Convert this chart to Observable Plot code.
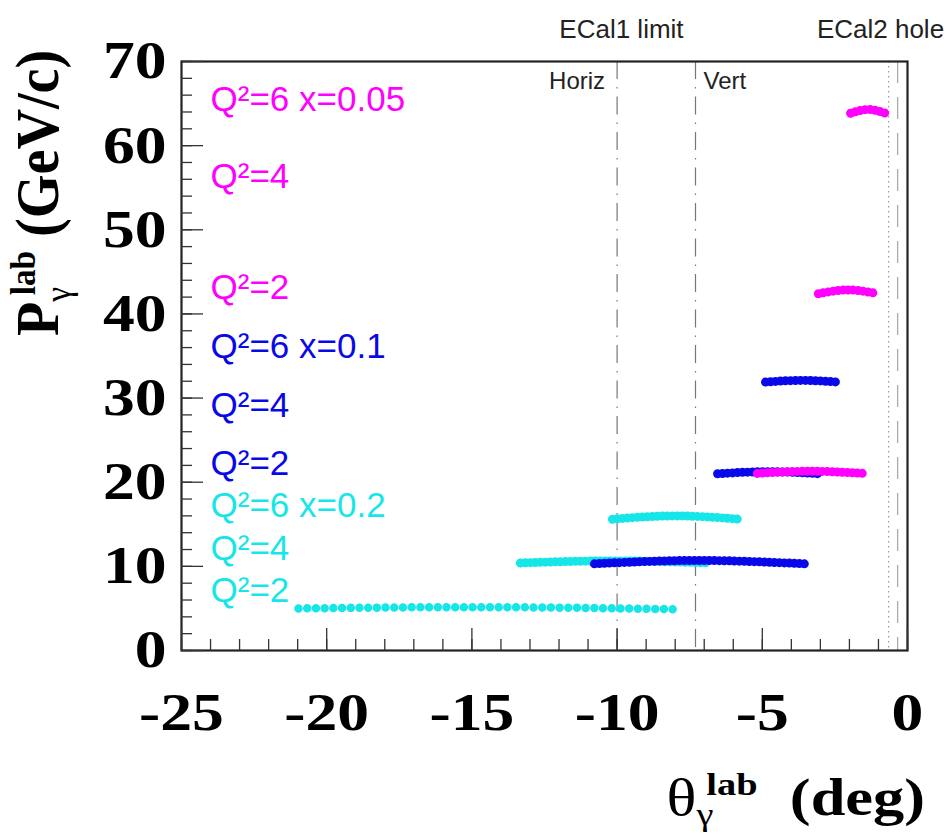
<!DOCTYPE html>
<html>
<head>
<meta charset="utf-8">
<script src="https://cdn.jsdelivr.net/npm/d3@7"></script>
<script src="https://cdn.jsdelivr.net/npm/@observablehq/plot@0.6"></script>
<style>
  html, body { margin: 0; padding: 0; background: #fff; }
  #chart svg { display: block; }
</style>
</head>
<body>
<div id="chart"></div>
<script>
// ---- Data ----
const q2Values   = [6, 4, 2, 6, 4, 2, 6, 4, 2];
const xBjorken   = [0.05, 0.05, 0.05, 0.1, 0.1, 0.1, 0.2, 0.2, 0.2];
const thetaStart = [-1.96, -3.07, -5.17, -4.89, -6.54, -10.78, -10.16, -13.33, -20.97];
const thetaMid   = [-1.35, -2.05, -3.36, -3.63, -4.80, -7.20, -8.00, -10.10, -14.40];
const thetaEnd   = [-0.76, -1.03, -1.55, -2.38, -3.00, -3.55, -5.79, -6.80, -7.92];
const pStart     = [63.85, 42.40, 21.05, 31.90, 21.00, 10.30, 15.60, 10.40, 5.00];
const pMid       = [64.30, 42.85, 21.30, 32.10, 21.25, 10.70, 16.00, 10.65, 5.15];
const pEnd       = [63.85, 42.40, 21.05, 31.90, 21.00, 10.30, 15.60, 10.40, 4.90];

// label positions (data units)
const labelTheta = -24.0;
const labelP     = [65.4, 56.3, 43.1, 36.1, 29.1, 22.2, 17.2, 12.1, 7.1];

// detector limits
const ecal1Theta  = [-10.0, -7.3];
const ecal1Names  = ["Horiz", "Vert"];
const ecal2Dotted = [-0.65];
const ecal2Dashed = [-0.34];
const topLabels   = ["ECal1 limit", "ECal2 hole"];
const topLabelX   = [-9.85, -0.93];

// ticks
const xMajor = [-25, -20, -15, -10, -5, 0];
const yMajor = [0, 10, 20, 30, 40, 50, 60, 70];
const xMinor = d3.range(-25, 0.01, 1);
const yMinor = d3.range(0, 70.01, 2);

const colorDomain = [0.05, 0.1, 0.2];
const colorRange  = ["#ff00ff", "#0808e8", "#17e6e8"];

// ---- Build rows ----
const drawOrder = [6, 7, 8, 3, 4, 5, 0, 1, 2];
const rows = [];
for (const i of drawOrder) {
  rows.push({id: i, xb: xBjorken[i], theta: thetaStart[i], p: pStart[i]});
  rows.push({id: i, xb: xBjorken[i], theta: thetaMid[i],   p: pMid[i]});
  rows.push({id: i, xb: xBjorken[i], theta: thetaEnd[i],   p: pEnd[i]});
}
const sparse = rows.filter(d => d.id === 8);
const dense  = rows.filter(d => d.id !== 8);
const labels = q2Values.map((q, i) => ({
  xb: xBjorken[i],
  p: labelP[i],
  text: `Q²=${q}` + (q === 6 ? ` x=${xBjorken[i]}` : "")
}));
const tops = topLabels.map((t, i) => ({t, x: topLabelX[i]}));

const serif = "'Liberation Serif', 'Times New Roman', serif";
const sans = "'Liberation Sans', Arial, sans-serif";

const lineOpts = {
  x: "theta", y: "p", z: "id", stroke: "xb",
  strokeWidth: 9, strokeLinecap: "round", curve: "natural"
};

const chart = Plot.plot({
  width: 945,
  height: 834,
  marginLeft: 181,
  marginRight: 38,
  marginTop: 61,
  marginBottom: 184,
  style: {background: "#fff", overflow: "visible"},
  x: {domain: [-25, 0], label: null},
  y: {domain: [0, 70], label: null},
  color: {type: "ordinal", domain: colorDomain, range: colorRange},
  marks: [
    Plot.ruleX(ecal1Theta, {stroke: "#777", strokeWidth: 1.2, strokeDasharray: "18,8,1.5,8"}),
    Plot.ruleX(ecal2Dotted, {stroke: "#999", strokeWidth: 1.2, strokeDasharray: "1.5,3.5"}),
    Plot.ruleX(ecal2Dashed, {stroke: "#aaa", strokeWidth: 1.3, strokeDasharray: "22,14"}),
    Plot.line(dense, {...lineOpts, strokeDasharray: "0,5"}),
    Plot.line(sparse, {...lineOpts, strokeWidth: 8.5, strokeDasharray: "0,8.7"}),
    Plot.frame({stroke: "#222", strokeWidth: 2.2}),
    Plot.axisX(xMinor, {tickSize: -11, stroke: "#333", strokeWidth: 1.3, tickFormat: () => "", label: null}),
    Plot.axisX(xMajor, {tickSize: -22, stroke: "#333", strokeWidth: 1.3, tickFormat: () => "", label: null}),
    Plot.axisY(yMinor, {tickSize: -11, stroke: "#333", strokeWidth: 1.3, tickFormat: () => "", label: null}),
    Plot.axisY(yMajor, {tickSize: -22, stroke: "#333", strokeWidth: 1.3, tickFormat: () => "", label: null}),
    Plot.axisX(xMajor, {tickSize: 0, tickPadding: 42, tickFormat: d => String(d), label: null,
      fontSize: 53, fontWeight: "bold", fontFamily: serif, fill: "#000"}),
    Plot.axisY(yMajor, {tickSize: 0, tickPadding: 15, tickFormat: d => String(d), label: null,
      fontSize: 53, fontWeight: "bold", fontFamily: serif, fill: "#000"}),
    Plot.text(labels, {x: () => labelTheta, y: "p", text: "text", fill: "xb",
      textAnchor: "start", fontSize: 35, fontFamily: sans}),
    Plot.text([ecal1Names[0]], {x: () => ecal1Theta[0], text: d => d, frameAnchor: "top",
      dy: 10, dx: -12, textAnchor: "end", fontSize: 24, fontFamily: sans, fill: "#222"}),
    Plot.text([ecal1Names[1]], {x: () => ecal1Theta[1], text: d => d, frameAnchor: "top",
      dy: 10, dx: 8, textAnchor: "start", fontSize: 24, fontFamily: sans, fill: "#222"}),
    Plot.text(tops, {x: "x", text: "t", frameAnchor: "top", dy: -42,
      fontSize: 26, fontFamily: sans, fill: "#222"})
  ]
});

document.getElementById("chart").appendChild(chart);

const svg = d3.select(chart);

// Horizontal stretch of the bold tick labels (as in the reference)
svg.selectAll('g[aria-label="x-axis tick label"] text, g[aria-label="y-axis tick label"] text')
  .each(function () {
    const t = this.getAttribute("transform");
    if (t) {
      this.setAttribute("transform", t + " scale(1.2,1)");
    } else {
      const x = +(this.getAttribute("x") || 0), y = +(this.getAttribute("y") || 0);
      this.removeAttribute("x"); this.removeAttribute("y");
      this.setAttribute("transform", `translate(${x},${y}) scale(1.2,1)`);
    }
  });

// Axis titles with sub/superscripts
const yt = svg.append("text")
  .attr("transform", "translate(58,336) rotate(-90) scale(1.04,1.15)")
  .attr("text-anchor", "start")
  .attr("font-family", serif).attr("font-weight", "bold").attr("font-size", 54).attr("fill", "#000");
yt.append("tspan").text("P");
yt.append("tspan").attr("font-size", 32).attr("font-weight", "normal").attr("dy", 10).text("γ");
yt.append("tspan").attr("font-size", 32).attr("dy", -30).attr("dx", -8).text("lab");
yt.append("tspan").attr("dy", 20).text(" (GeV/c)");

const xt = svg.append("text")
  .attr("transform", "translate(925,815) scale(1.2,1)")
  .attr("text-anchor", "end")
  .attr("font-family", serif).attr("font-weight", "bold").attr("font-size", 52).attr("fill", "#000");
xt.append("tspan").attr("font-weight", "normal").text("θ");
xt.append("tspan").attr("font-size", 32).attr("font-weight", "normal").attr("dy", 10).text("γ");
xt.append("tspan").attr("font-size", 32).attr("dy", -30).attr("dx", -6).text("lab");
xt.append("tspan").attr("dy", 20).attr("dx", 14).text(" (deg)");
</script>
</body>
</html>
